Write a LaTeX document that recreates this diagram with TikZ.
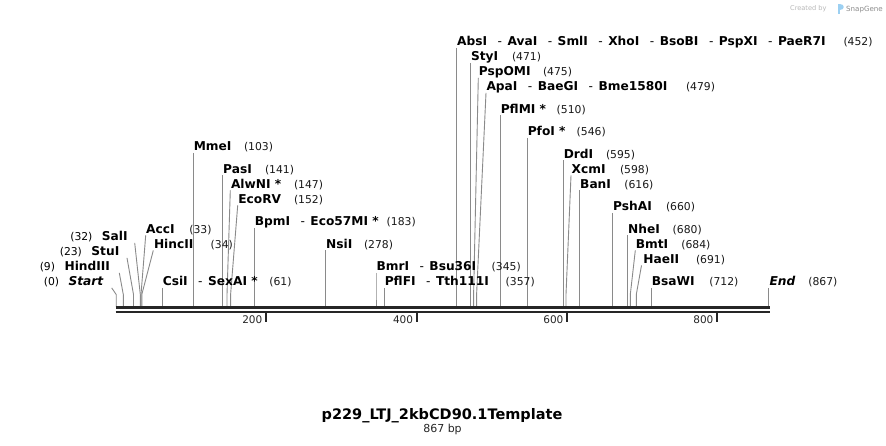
\documentclass[tikz,border=0pt]{standalone}
\usepackage{fontspec}
\setmainfont{DejaVu Sans}
\definecolor{sitegray}{HTML}{8A8A8A}
\definecolor{bbcol}{HTML}{262626}
\definecolor{snapblue}{HTML}{9CD0F2}
\newcommand\enzfont{\fontsize{12.2}{14}\selectfont\bfseries}
\newcommand\posfont{\fontsize{10.8}{13}\selectfont\mdseries}
\newcommand\sepr{\hspace{10.5pt}{\mdseries -}\hspace{5.5pt}}
% right-hand site: name, text x, baseline, line top x, cut x, label, number, number x
\newcommand\rsite[8]{%
  \node[enzlab] (#1) at (#2,#3) {#6};
  \node[posnum] (#1-n) at (#8,#3) {(#7)};
  \coordinate (#1-t) at (#4,#3+2.2);
  \coordinate (#1-j) at (#5,294.5);
  \coordinate (#1-b) at (#5,306.3);
  \draw[site] (#1-t) -- (#1-j) -- (#1-b);
}
% left-hand site: name, text right x, baseline, line top x, cut x, label, number
\newcommand\lsite[7]{%
  \node[enzlab, anchor=base east] (#1) at (#2,#3) {{\posfont(#7)}\hspace{9.5pt}#6};
  \coordinate (#1-t) at (#4,#3+2.2);
  \coordinate (#1-j) at (#5,294.5);
  \coordinate (#1-b) at (#5,306.3);
  \draw[site] (#1-t) -- (#1-j) -- (#1-b);
}
\tikzset{
  site/.style={draw=sitegray, line width=0.9pt},
  enzlab/.style={anchor=base west, inner sep=0pt, outer sep=0pt, font=\enzfont, text=black},
  posnum/.style={anchor=base west, inner sep=0pt, outer sep=0pt, font=\posfont, text=black!90},
  bbline/.style={draw=bbcol, line width=2.6pt},
  tickmark/.style={draw=bbcol, line width=2pt},
  ticklab/.style={anchor=base east, inner sep=0pt, font=\fontsize{10.5}{12}\selectfont, text=black!85},
}
\begin{document}
\begin{tikzpicture}[x=1pt,y=-1pt]
\useasboundingbox[fill=white] (0,0) rectangle (886,445);

% ---- right-hand sites ----
\rsite{absi}{457.2}{45.7}{456.7}{456.7}{AbsI\sepr AvaI\sepr SmlI\sepr XhoI\sepr BsoBI\sepr PspXI\sepr PaeR7I}{452}{843.5}
\rsite{styi}{471.0}{60.7}{470.6}{470.6}{StyI}{471}{512}
\rsite{pspomi}{478.8}{75.7}{478.3}{473.6}{PspOMI}{475}{543}
\rsite{apai}{486.5}{90.7}{486.0}{476.6}{ApaI\sepr BaeGI\sepr Bme1580I}{479}{686}
\rsite{pflmi}{500.8}{113.2}{500.3}{500.3}{PflMI *}{510}{556.7}
\rsite{pfoi}{527.8}{135.7}{527.3}{527.3}{PfoI *}{546}{576.7}
\rsite{drdi}{563.8}{158.2}{563.3}{563.3}{DrdI}{595}{606}
\rsite{xcmi}{571.7}{173.2}{571.0}{566.0}{XcmI}{598}{620}
\rsite{bani}{580.2}{188.2}{579.7}{579.7}{BanI}{616}{624.3}
\rsite{pshai}{613.2}{210.7}{612.7}{612.7}{PshAI}{660}{666}
\rsite{nhei}{628.2}{233.2}{627.7}{627.7}{NheI}{680}{672.7}
\rsite{bmti}{635.8}{248.2}{635.3}{630.3}{BmtI}{684}{681.3}
\rsite{haeii}{643.3}{263.2}{641.5}{636.3}{HaeII}{691}{696}
\rsite{bsawi}{651.8}{285.7}{651.3}{651.3}{BsaWI}{712}{709.3}
\rsite{endsite}{769.5}{285.7}{768.8}{768.8}{\itshape End}{867}{808.3}
\rsite{mmei}{193.8}{150.7}{193.3}{193.3}{MmeI}{103}{244}
\rsite{pasi}{223.2}{173.2}{222.7}{222.7}{PasI}{141}{265}
\rsite{alwni}{231.0}{188.2}{230.3}{227.0}{AlwNI *}{147}{294}
\rsite{ecorv}{238.3}{203.2}{237.7}{230.6}{EcoRV}{152}{294}
\rsite{bpmi}{254.8}{225.7}{254.3}{254.3}{BpmI\sepr Eco57MI *}{183}{386.7}
\rsite{nsii}{326.2}{248.2}{325.7}{325.7}{NsiI}{278}{364}
\rsite{bmri}{376.5}{270.7}{376.0}{376.0}{BmrI\sepr Bsu36I}{345}{491.7}
\rsite{pflfi}{384.8}{285.7}{384.3}{384.3}{PflFI\sepr Tth111I}{357}{505.7}
\rsite{acci}{146.2}{233.2}{145.7}{141.0}{AccI}{33}{189.3}
\rsite{hincii}{154.0}{248.2}{153.3}{141.8}{HincII}{34}{210.7}
\rsite{csii}{162.8}{285.7}{162.3}{162.3}{CsiI\sepr SexAI *}{61}{269.3}

% ---- left-hand sites ----
\lsite{startsite}{103.3}{285.7}{111.7}{116.2}{\itshape Start}{0}
\lsite{hindiii}{110.0}{270.7}{119.3}{123.3}{HindIII}{9}
\lsite{stui}{119.3}{255.7}{127.0}{133.5}{StuI}{23}
\lsite{sali}{127.7}{240.7}{134.7}{140.3}{SalI}{32}

% ---- backbone ----
\coordinate (bbA1) at (115.5,307.6);
\coordinate (bbB1) at (770,307.6);
\coordinate (bbA2) at (115.5,311.9);
\coordinate (bbB2) at (770,311.9);
\draw[bbline] (bbA1) -- (bbB1);
\draw[bbline] (bbA2) -- (bbB2);

% ---- ruler ticks ----
\foreach \tx/\tl in {265.7/200, 416.5/400, 566.8/600, 716.8/800}{
  \coordinate (tk\tl a) at (\tx,313.2);
  \coordinate (tk\tl b) at (\tx,322.3);
  \draw[tickmark] (tk\tl a) -- (tk\tl b);
  \node[ticklab] (tl\tl) at (\tx-3.2,323.6) {\tl};
}

% ---- title ----
\node[anchor=base, inner sep=0pt, font=\fontsize{14.5}{17}\selectfont\bfseries] (title) at (442,419.5) {p229\_LTJ\_2kbCD90.1Template};
\node[anchor=base, inner sep=0pt, font=\fontsize{11}{13}\selectfont, text=black!85] (len) at (442.5,432.7) {867 bp};

% ---- SnapGene credit ----
\node[anchor=base west, inner sep=0pt, font=\fontsize{6.6}{8}\selectfont, text=black!28] (credit) at (790,10.8) {Created by};
\fill[snapblue] (837.6,3.5) rectangle (839.8,13.5);
\fill[snapblue] (839.8,3.5) .. controls (844.6,3.5) and (844.6,9.8) .. (839.8,9.8) -- cycle;
\node[anchor=base west, inner sep=0pt, font=\fontsize{7.1}{9}\selectfont, text=black!45] (snapgene) at (846,11) {SnapGene};
\end{tikzpicture}
\end{document}
